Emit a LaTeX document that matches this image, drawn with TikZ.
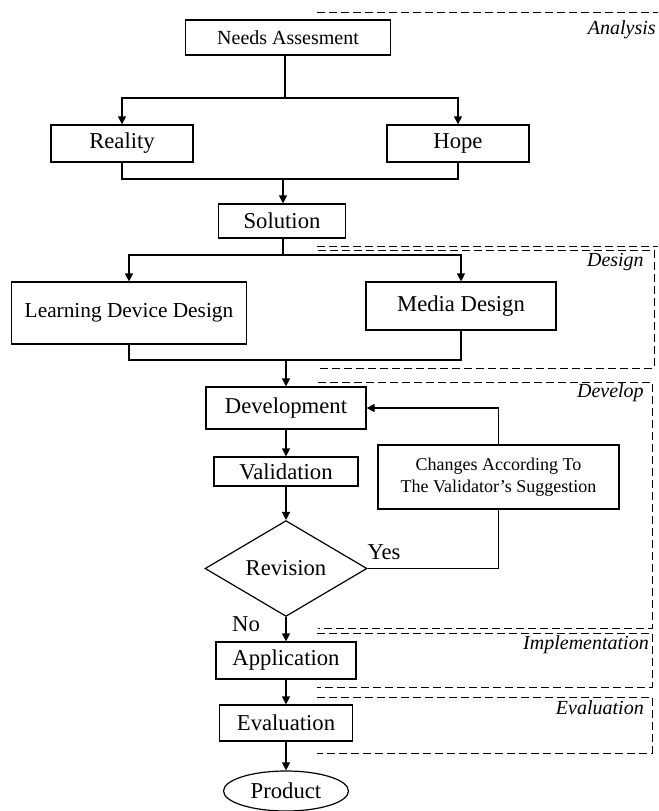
\documentclass[tikz,border=0pt]{standalone}
\usepackage{fontspec}
\setmainfont{Liberation Serif}
\usetikzlibrary{arrows.meta,shapes.geometric}

\begin{document}
\begin{tikzpicture}[x=0.75pt,y=-0.75pt]
	\fontsize{17}{20}\selectfont
	\tikzset{
		stage/.style={draw, line width=0.9pt, inner sep=0pt, align=center},
		flow/.style={line width=0.9pt, -{Triangle[width=6pt,length=6pt]}},
		link/.style={line width=0.9pt},
		phase/.style={line width=0.7pt, dash pattern=on 6pt off 3pt},
		phaselabel/.style={anchor=east, inner sep=0pt, font=\fontsize{15}{18}\selectfont\itshape},
	}
	\useasboundingbox (0,0) rectangle (658,811);

	% Dashed frames of the phases, open on the left.
	\draw[phase] (317,12) -- (658,12);
	\draw[phase] (317,246) -- (658,246);
	\draw[phase] (318,250) -- (654,250) -- (654,368) -- (318,368);
	\draw[phase] (318,382) -- (652,382) -- (652,628) -- (318,628);
	\draw[phase] (317,633) -- (652,633) -- (652,687) -- (317,687);
	\draw[phase] (317,697) -- (652,697) -- (652,753) -- (317,753);

	\node[phaselabel] (lanalysis) at (656,30)  {Analysis};
	\node[phaselabel] (ldesign)   at (644,262) {Design};
	\node[phaselabel] (ldevelop)  at (644,393) {Develop};
	\node[phaselabel] (limpl)     at (649,645) {Implementation};
	\node[phaselabel] (leval)     at (644,708) {Evaluation};

	% Analysis
	\node[stage, minimum width=153.75pt, minimum height=26.25pt, font=\fontsize{15}{18}\selectfont] (needs) at (288,37.5) {Needs Assesment};
	\node[stage, minimum width=106.5pt, minimum height=27.75pt] (reality) at (122,143.5) {Reality};
	\node[stage, minimum width=106.5pt, minimum height=27.75pt] (hope) at (458,143.5) {Hope};
	\node[stage, minimum width=95.25pt, minimum height=25.5pt] (solution) at (282,221) {Solution};

	% Design
	\node[stage, minimum width=176.25pt, minimum height=46.5pt, font=\fontsize{16}{19}\selectfont] (ldd) at (129,313) {Learning Device Design};
	\node[stage, minimum width=142.5pt, minimum height=36pt] (media) at (461,306) {Media Design};

	% Develop
	\node[stage, minimum width=120pt, minimum height=31.5pt] (dev) at (286,408) {Development};
	\node[stage, minimum width=108pt, minimum height=21.75pt] (valid) at (286,471.5) {Validation};
	\node[stage, minimum width=180.75pt, minimum height=48pt, font=\fontsize{13.5}{16.3}\selectfont] (changes) at (498.5,477) {Changes According To\\The Validator's Suggestion};
	\node[stage, diamond, minimum width=121.5pt, minimum height=69.75pt] (revision) at (286,568.5) {Revision};

	% Implementation, evaluation and the result
	\node[stage, minimum width=105pt, minimum height=27.75pt] (appl) at (286,660.5) {Application};
	\node[stage, minimum width=99.75pt, minimum height=27pt] (evalbox) at (286,723) {Evaluation};
	\node[stage, ellipse, minimum width=93.75pt, minimum height=30pt] (product) at (286,791) {Product};

	\coordinate (fork1) at (285,98);  % split under needs
	\coordinate (join1) at (283,179); % reality + hope
	\coordinate (fork2) at (283,255); % split under solution
	\coordinate (join2) at (286,360); % both designs

	% Connectors
	\draw[link] (needs.south -| fork1) -- (fork1);
	\draw[flow] (fork1) -| (reality.north);
	\draw[flow] (fork1) -| (hope.north);
	\draw[link] (reality.south) |- (join1) -| (hope.south);
	\draw[flow] (join1) -- (join1 |- solution.north);
	\draw[link] (solution.south -| fork2) -- (fork2);
	\draw[flow] (fork2) -| (ldd.north);
	\draw[flow] (fork2) -| (media.north);
	\draw[link] (ldd.south) |- (join2) -| (media.south);
	\draw[flow] (join2) -- (dev.north);
	\draw[flow] (dev) -- (valid);
	\draw[flow] (valid) -- (revision);
	\draw[link] (revision.east) -| (changes.south);
	\draw[flow] (changes.north) |- (dev.east);
	\draw[flow] (revision) -- (appl);
	\draw[flow] (appl) -- (evalbox);
	\draw[flow] (evalbox) -- (product);

	\node (yes) at (384,552) {Yes};
	\node (no) at (246,624) {No};
\end{tikzpicture}
\end{document}
